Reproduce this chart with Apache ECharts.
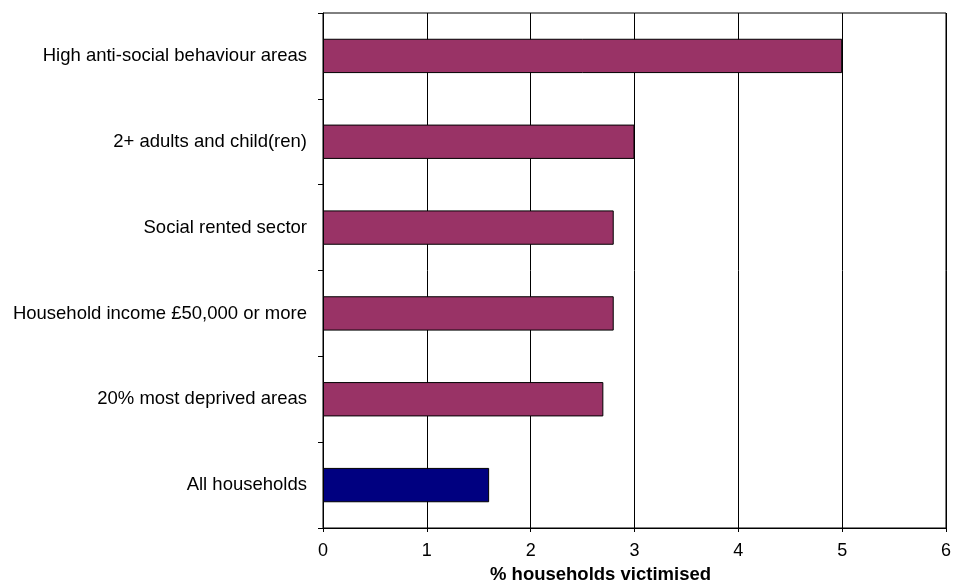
<!DOCTYPE html>
<html>
<head>
<meta charset="utf-8">
<script src="https://cdn.jsdelivr.net/npm/echarts@6/dist/echarts.min.js"></script>
<style>
  html, body { margin: 0; padding: 0; background: #ffffff; overflow: hidden; }
  #chart { width: 954px; height: 583px; }
</style>
</head>
<body>
<div id="chart"></div>
<script>
// Household groups, listed top to bottom
const categories = [
  'High anti-social behaviour areas',
  '2+ adults and child(ren)',
  'Social rented sector',
  'Household income £50,000 or more',
  '20% most deprived areas',
  'All households'
];
// Percentage of households victimised
const values = [5, 3, 2.8, 2.8, 2.7, 1.6];
// Bar fill for each group (the overall figure is highlighted)
const barColors = ['#993366', '#993366', '#993366', '#993366', '#993366', '#000080'];
const xTicks = [0, 1, 2, 3, 4, 5, 6];
const axisTitle = '% households victimised';

const chart = echarts.init(document.getElementById('chart'), null, { renderer: 'canvas' });
const font = 'Liberation Sans, Arial, sans-serif';

chart.setOption({
  animation: false,
  backgroundColor: '#ffffff',
  grid: {
    left: 323, right: 5, top: 13, bottom: 55, containLabel: false,
    show: true, borderColor: '#000000', borderWidth: 1, backgroundColor: 'transparent'
  },
  title: {
    text: axisTitle,
    left: 490,
    top: 565,
    padding: 0,
    textStyle: { fontFamily: font, fontSize: 18.5, fontWeight: 'bold', color: '#000000' }
  },
  xAxis: {
    type: 'value',
    min: xTicks[0],
    max: xTicks[xTicks.length - 1],
    interval: 1,
    axisLine: { show: true, lineStyle: { color: '#000000', width: 1 } },
    axisTick: { show: true, length: 4, lineStyle: { color: '#000000' } },
    axisLabel: { margin: 14, fontFamily: font, fontSize: 18, color: '#000000' },
    splitLine: { show: true, lineStyle: { color: '#000000', width: 1 } }
  },
  yAxis: {
    type: 'category',
    data: categories,
    inverse: true,
    axisLine: { show: true, lineStyle: { color: '#000000', width: 1 } },
    axisTick: { show: true, length: 5, lineStyle: { color: '#000000' } },
    axisLabel: { margin: 16, fontFamily: font, fontSize: 18.5, color: '#000000' },
    splitLine: { show: false }
  },
  series: [{
    type: 'bar',
    barCategoryGap: '60%',
    data: values.map((v, i) => ({
      value: v,
      itemStyle: { color: barColors[i], borderColor: '#000000', borderWidth: 1 }
    }))
  }]
});
</script>
</body>
</html>
